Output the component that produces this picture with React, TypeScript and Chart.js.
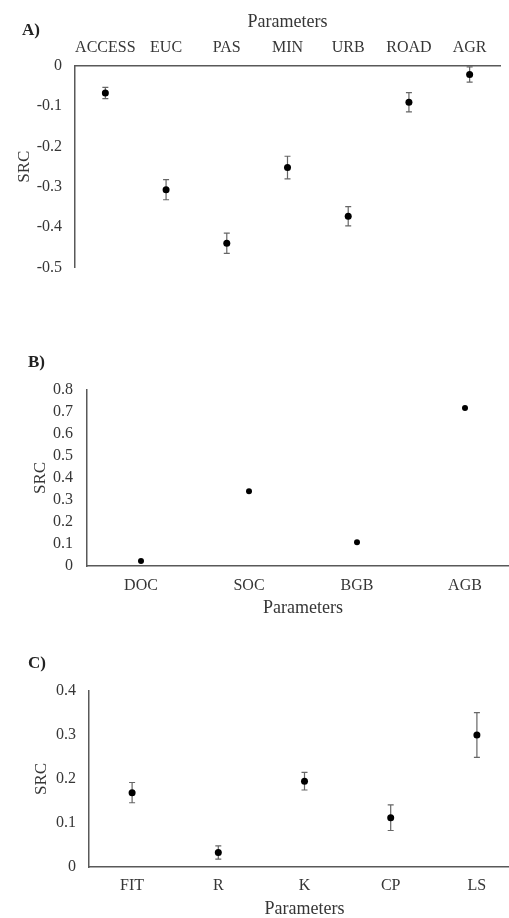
import React, { useEffect, useRef } from "react";
import { Chart, registerables } from "chart.js";

Chart.register(...registerables);

// ---- Data ----
const landUseParams = ["ACCESS", "EUC", "PAS", "MIN", "URB", "ROAD", "AGR"];
const landUseSRC = [-0.067, -0.307, -0.44, -0.252, -0.373, -0.09, -0.021];
const landUseErr = [0.014, 0.025, 0.025, 0.028, 0.024, 0.024, 0.019];

const carbonParams = ["DOC", "SOC", "BGB", "AGB"];
const carbonSRC = [0.023, 0.34, 0.108, 0.718];

const soilParams = ["FIT", "R", "K", "CP", "LS"];
const soilSRC = [0.169, 0.033, 0.195, 0.112, 0.3];
const soilErr = [0.023, 0.015, 0.02, 0.029, 0.051];

const FONT = "'Liberation Serif', 'Times New Roman', serif";
const TEXT = "#363636";
const AXIS = "#595959";

const errorBarPlugin = {
  id: "errorBars",
  beforeDatasetsDraw(chart: any) {
    const ds: any = chart.data.datasets[0];
    const errs: number[] | undefined = ds.errors;
    if (!errs) return;
    const xs = chart.scales.x;
    const ys = chart.scales.y;
    const ctx = chart.ctx;
    ctx.save();
    ctx.strokeStyle = "#666";
    ctx.lineWidth = 1.2;
    ds.data.forEach((v: number, i: number) => {
      const e = errs[i];
      const px = xs.getPixelForValue(i);
      const y1 = ys.getPixelForValue(v + e);
      const y2 = ys.getPixelForValue(v - e);
      ctx.beginPath();
      ctx.moveTo(px, y1);
      ctx.lineTo(px, y2);
      ctx.moveTo(px - 3, y1);
      ctx.lineTo(px + 3, y1);
      ctx.moveTo(px - 3, y2);
      ctx.lineTo(px + 3, y2);
      ctx.stroke();
    });
    ctx.restore();
  },
};

type PanelSpec = {
  labels: string[];
  values: number[];
  errors?: number[];
  yMin: number;
  yMax: number;
  xPos: "top" | "bottom";
  padding: { left: number; top: number; right: number; bottom: number };
  yWidth: number;
  xHeight: number;
  yTickPad: number;
  xTickPad: number;
  xTitlePad: number;
  radius: number;
};

function makeConfig(s: PanelSpec): any {
  return {
    type: "line",
    data: {
      labels: s.labels,
      datasets: [
        {
          data: s.values,
          errors: s.errors,
          showLine: false,
          pointRadius: s.radius,
          pointHoverRadius: s.radius,
          pointBackgroundColor: "#000",
          pointBorderColor: "#000",
          pointBorderWidth: 0,
        },
      ],
    },
    options: {
      responsive: false,
      animation: false,
      layout: { padding: s.padding },
      plugins: { legend: { display: false }, tooltip: { enabled: false } },
      scales: {
        x: {
          type: "category",
          position: s.xPos,
          offset: true,
          grid: { display: false, drawTicks: false },
          border: { display: true, color: AXIS, width: 1.5 },
          ticks: {
            padding: s.xTickPad,
            color: TEXT,
            font: { family: FONT, size: 16 },
            maxRotation: 0,
            autoSkip: false,
          },
          title: {
            display: true,
            text: "Parameters",
            color: TEXT,
            font: { family: FONT, size: 18 },
            padding: s.xPos === "top" ? { top: s.xTitlePad, bottom: 0 } : { top: 0, bottom: s.xTitlePad },
          },
          afterFit: (sc: any) => {
            sc.height = s.xHeight;
          },
        },
        y: {
          min: s.yMin,
          max: s.yMax,
          grid: { display: false, drawTicks: false },
          border: { display: true, color: AXIS, width: 1.5 },
          ticks: {
            stepSize: 0.1,
            autoSkip: false,
            padding: s.yTickPad,
            color: TEXT,
            font: { family: FONT, size: 16 },
            callback: (v: number) => {
              const n = Number(Number(v).toFixed(1));
              return n === 0 ? "0" : String(n);
            },
          },
          title: {
            display: true,
            text: "SRC",
            color: TEXT,
            font: { family: FONT, size: 17 },
            padding: { top: 4, bottom: 0 },
          },
          afterFit: (sc: any) => {
            sc.width = s.yWidth;
          },
        },
      },
    },
    plugins: [errorBarPlugin],
  };
}

function Panel({ spec, top, width, height }: { spec: PanelSpec; top: number; width: number; height: number }) {
  const ref = useRef<HTMLCanvasElement | null>(null);
  useEffect(() => {
    if (!ref.current) return;
    const chart = new Chart(ref.current, makeConfig(spec));
    return () => chart.destroy();
  }, []);
  return (
    <canvas
      ref={ref}
      width={width}
      height={height}
      style={{ position: "absolute", left: 0, top, width, height }}
    />
  );
}

const letterStyle = (left: number, top: number): React.CSSProperties => ({
  position: "absolute",
  left,
  top,
  fontFamily: FONT,
  fontWeight: "bold",
  fontSize: 17,
  lineHeight: "20px",
  color: "#222",
});

export default function App() {
  const specA: PanelSpec = {
    labels: landUseParams,
    values: landUseSRC,
    errors: landUseErr,
    yMin: -0.5,
    yMax: 0,
    xPos: "top",
    padding: { left: 10, top: 5, right: 9, bottom: 14 },
    yWidth: 65,
    xHeight: 61,
    yTickPad: 13,
    xTickPad: 9,
    xTitlePad: 6,
    radius: 3.5,
  };
  const specB: PanelSpec = {
    labels: carbonParams,
    values: carbonSRC,
    yMin: 0,
    yMax: 0.8,
    xPos: "bottom",
    padding: { left: 26, top: 100, right: 11, bottom: 0 },
    yWidth: 61,
    xHeight: 59,
    yTickPad: 14,
    xTickPad: 10,
    xTitlePad: 6,
    radius: 3,
  };
  const specC: PanelSpec = {
    labels: soilParams,
    values: soilSRC,
    errors: soilErr,
    yMin: 0,
    yMax: 0.4,
    xPos: "bottom",
    padding: { left: 27, top: 91, right: 10, bottom: 0 },
    yWidth: 62,
    xHeight: 58,
    yTickPad: 13,
    xTickPad: 9,
    xTitlePad: 5,
    radius: 3.5,
  };
  return (
    <div
      style={{
        position: "absolute",
        left: 0,
        top: 0,
        width: 509,
        height: 918,
        overflow: "hidden",
        background: "#fff",
      }}
    >
      <Panel spec={specA} top={0} width={509} height={290} />
      <Panel spec={specB} top={290} width={530} height={335} />
      <Panel spec={specC} top={600} width={530} height={325} />
      <div style={letterStyle(22, 20)}>A)</div>
      <div style={letterStyle(28, 352)}>B)</div>
      <div style={letterStyle(28, 653)}>C)</div>
    </div>
  );
}
